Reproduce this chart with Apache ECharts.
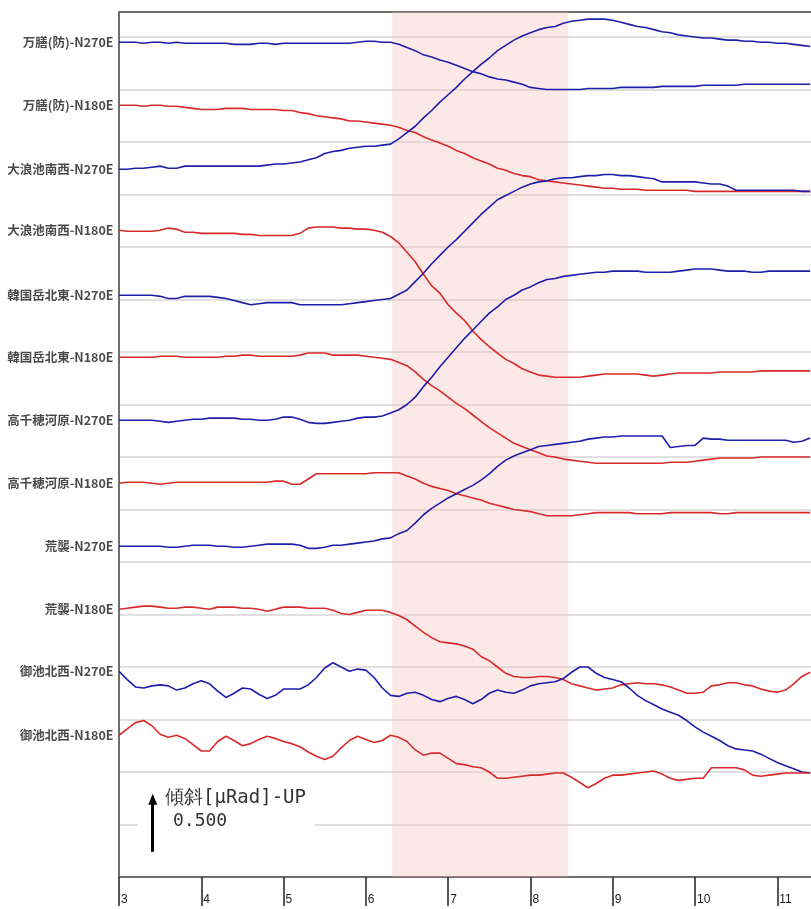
<!DOCTYPE html>
<html><head><meta charset="utf-8">
<script src="https://cdn.jsdelivr.net/npm/echarts@6/dist/echarts.min.js"></script>
<style>html,body{margin:0;padding:0;background:#fff}#c{width:811px;height:909px}</style>
</head><body><div id="c"></div>
<script>
// time axis (x), shared by all traces
const times = [3.0,3.1,3.2,3.3,3.4,3.5,3.6,3.7,3.8,3.9,
 4.0,4.1,4.2,4.3,4.4,4.5,4.6,4.7,4.8,4.9,
 5.0,5.1,5.2,5.3,5.4,5.5,5.6,5.7,5.8,5.9,
 6.0,6.1,6.2,6.3,6.4,6.5,6.6,6.7,6.8,6.9,
 7.0,7.1,7.2,7.3,7.4,7.5,7.6,7.7,7.8,7.9,
 8.0,8.1,8.2,8.3,8.4,8.5,8.6,8.7,8.8,8.9,
 9.0,9.1,9.2,9.3,9.4,9.5,9.6,9.7,9.8,9.9,
 10.0,10.1,10.2,10.3,10.4,10.5,10.6,10.7,10.8,10.9,
 11.0,11.1,11.2,11.3,11.4];
const xTicks = [3,4,5,6,7,8,9,10,11];
const stationLabels = ['万膳(防)-N270E','万膳(防)-N180E','大浪池南西-N270E','大浪池南西-N180E',
 '韓国岳北東-N270E','韓国岳北東-N180E','高千穂河原-N270E','高千穂河原-N180E',
 '荒襲-N270E','荒襲-N180E','御池北西-N270E','御池北西-N180E'];
const highlightStart = 6.32, highlightEnd = 8.46;
const scaleBar = 0.5; // μRad
// tilt traces (μRad, stacked offsets)
const mansenN270 = [7.95,7.95,7.95,7.94,7.95,7.95,7.94,7.95,7.94,7.94,
 7.94,7.94,7.94,7.94,7.93,7.93,7.93,7.94,7.94,7.93,
 7.94,7.94,7.94,7.94,7.94,7.94,7.94,7.94,7.94,7.95,
 7.96,7.96,7.95,7.95,7.93,7.90,7.87,7.83,7.81,7.78,
 7.76,7.73,7.70,7.67,7.65,7.62,7.60,7.59,7.57,7.55,
 7.52,7.51,7.50,7.50,7.50,7.50,7.50,7.51,7.51,7.51,
 7.51,7.52,7.52,7.52,7.52,7.52,7.53,7.53,7.53,7.53,
 7.53,7.54,7.54,7.54,7.54,7.54,7.55,7.55,7.55,7.55,
 7.55,7.55,7.55,7.55,7.55];
const mansenN180 = [7.35,7.35,7.35,7.34,7.35,7.35,7.34,7.34,7.33,7.32,
 7.31,7.31,7.31,7.32,7.32,7.32,7.31,7.31,7.31,7.31,
 7.30,7.30,7.28,7.27,7.25,7.24,7.23,7.22,7.20,7.20,
 7.19,7.18,7.17,7.16,7.14,7.11,7.09,7.05,7.02,6.99,
 6.96,6.92,6.89,6.85,6.82,6.79,6.75,6.73,6.70,6.68,
 6.67,6.64,6.63,6.62,6.61,6.60,6.59,6.58,6.57,6.56,
 6.56,6.55,6.55,6.55,6.54,6.54,6.54,6.54,6.54,6.54,
 6.53,6.53,6.53,6.53,6.53,6.53,6.53,6.53,6.53,6.53,
 6.53,6.53,6.53,6.53,6.53];
const onamiN270 = [6.74,6.74,6.75,6.75,6.76,6.77,6.75,6.75,6.77,6.77,
 6.77,6.77,6.77,6.77,6.77,6.77,6.77,6.77,6.78,6.79,
 6.79,6.80,6.81,6.83,6.85,6.89,6.91,6.92,6.94,6.95,
 6.96,6.96,6.97,6.98,7.03,7.09,7.15,7.23,7.30,7.38,
 7.45,7.52,7.60,7.67,7.74,7.80,7.87,7.92,7.97,8.01,
 8.04,8.07,8.09,8.10,8.13,8.15,8.16,8.17,8.17,8.17,
 8.16,8.14,8.12,8.10,8.09,8.07,8.05,8.04,8.02,8.01,
 8.00,7.99,7.99,7.98,7.97,7.97,7.96,7.96,7.95,7.95,
 7.94,7.94,7.93,7.92,7.91];
const onamiN180 = [6.16,6.15,6.15,6.15,6.15,6.16,6.18,6.17,6.14,6.14,
 6.13,6.13,6.13,6.13,6.13,6.12,6.12,6.11,6.11,6.11,
 6.11,6.11,6.13,6.18,6.19,6.19,6.19,6.18,6.18,6.17,
 6.17,6.16,6.14,6.10,6.04,5.95,5.86,5.74,5.63,5.56,
 5.45,5.37,5.30,5.20,5.12,5.05,4.99,4.93,4.89,4.84,
 4.81,4.78,4.77,4.76,4.76,4.76,4.76,4.77,4.78,4.79,
 4.79,4.79,4.79,4.79,4.78,4.77,4.78,4.79,4.80,4.80,
 4.80,4.80,4.80,4.81,4.81,4.81,4.81,4.81,4.82,4.82,
 4.82,4.82,4.82,4.82,4.82];
const karakuniN270 = [5.54,5.54,5.54,5.54,5.54,5.53,5.51,5.51,5.53,5.53,
 5.53,5.53,5.52,5.51,5.49,5.47,5.45,5.46,5.47,5.47,
 5.47,5.47,5.45,5.45,5.45,5.45,5.45,5.45,5.46,5.47,
 5.48,5.49,5.50,5.51,5.55,5.59,5.67,5.75,5.84,5.92,
 6.00,6.07,6.15,6.23,6.31,6.38,6.45,6.49,6.53,6.57,
 6.60,6.62,6.63,6.65,6.66,6.66,6.67,6.68,6.68,6.69,
 6.69,6.68,6.68,6.67,6.66,6.65,6.62,6.62,6.62,6.62,
 6.62,6.61,6.60,6.60,6.58,6.54,6.54,6.54,6.54,6.54,
 6.54,6.54,6.54,6.53,6.53];
const karakuniN180 = [4.95,4.95,4.95,4.95,4.95,4.96,4.96,4.96,4.95,4.95,
 4.95,4.95,4.95,4.96,4.96,4.97,4.97,4.96,4.96,4.96,
 4.96,4.96,4.97,4.99,4.99,4.99,4.97,4.97,4.97,4.97,
 4.96,4.95,4.94,4.93,4.90,4.87,4.81,4.74,4.68,4.63,
 4.57,4.51,4.46,4.40,4.34,4.28,4.23,4.18,4.13,4.10,
 4.07,4.04,4.01,4.00,3.98,3.97,3.96,3.95,3.94,3.94,
 3.94,3.94,3.94,3.94,3.94,3.94,3.94,3.95,3.95,3.95,
 3.96,3.97,3.98,3.99,3.99,3.99,3.99,3.99,4.00,4.00,
 4.00,4.00,4.00,4.00,4.00];
const takachihoN270 = [4.35,4.35,4.35,4.35,4.35,4.34,4.33,4.34,4.35,4.36,
 4.36,4.37,4.37,4.37,4.37,4.36,4.36,4.35,4.35,4.36,
 4.38,4.38,4.36,4.33,4.32,4.32,4.33,4.34,4.35,4.37,
 4.38,4.38,4.39,4.42,4.45,4.50,4.57,4.67,4.76,4.86,
 4.95,5.04,5.13,5.21,5.29,5.37,5.43,5.50,5.54,5.59,
 5.62,5.66,5.69,5.70,5.72,5.73,5.74,5.75,5.76,5.76,
 5.77,5.77,5.77,5.77,5.76,5.76,5.76,5.76,5.77,5.78,
 5.79,5.79,5.79,5.78,5.77,5.77,5.77,5.76,5.76,5.77,
 5.77,5.77,5.77,5.77,5.77];
const takachihoN180 = [3.75,3.76,3.76,3.76,3.75,3.74,3.75,3.76,3.76,3.76,
 3.76,3.76,3.76,3.76,3.76,3.76,3.76,3.76,3.76,3.77,
 3.77,3.74,3.74,3.79,3.84,3.84,3.84,3.84,3.84,3.84,
 3.84,3.85,3.85,3.85,3.85,3.82,3.79,3.75,3.72,3.70,
 3.68,3.65,3.63,3.61,3.59,3.56,3.54,3.52,3.50,3.49,
 3.48,3.46,3.44,3.44,3.44,3.44,3.45,3.46,3.47,3.47,
 3.47,3.47,3.47,3.46,3.46,3.46,3.46,3.47,3.47,3.47,
 3.47,3.47,3.47,3.46,3.46,3.47,3.47,3.47,3.47,3.47,
 3.47,3.47,3.47,3.47,3.47];
const arasoN270 = [3.15,3.15,3.15,3.15,3.15,3.15,3.14,3.14,3.15,3.16,
 3.16,3.16,3.15,3.15,3.14,3.14,3.15,3.16,3.17,3.17,
 3.17,3.17,3.16,3.13,3.13,3.14,3.16,3.16,3.17,3.18,
 3.19,3.20,3.22,3.23,3.27,3.30,3.37,3.45,3.51,3.56,
 3.61,3.65,3.69,3.73,3.78,3.84,3.91,3.97,4.01,4.04,
 4.07,4.10,4.11,4.12,4.13,4.14,4.15,4.17,4.18,4.19,
 4.19,4.20,4.20,4.20,4.20,4.20,4.20,4.09,4.10,4.11,
 4.11,4.18,4.17,4.17,4.16,4.16,4.16,4.16,4.16,4.16,
 4.16,4.16,4.14,4.15,4.18];
const arasoN180 = [2.55,2.56,2.57,2.58,2.58,2.57,2.56,2.56,2.57,2.57,
 2.56,2.55,2.57,2.57,2.57,2.56,2.56,2.55,2.53,2.55,
 2.57,2.57,2.57,2.56,2.56,2.56,2.54,2.51,2.50,2.52,
 2.54,2.54,2.54,2.52,2.49,2.45,2.39,2.33,2.28,2.24,
 2.23,2.22,2.20,2.17,2.10,2.06,2.00,1.94,1.91,1.90,
 1.90,1.91,1.91,1.90,1.88,1.84,1.82,1.80,1.78,1.79,
 1.80,1.83,1.84,1.85,1.84,1.84,1.83,1.81,1.78,1.75,
 1.75,1.76,1.82,1.83,1.85,1.85,1.83,1.82,1.79,1.77,
 1.76,1.78,1.84,1.91,1.95];
const oikeN270 = [1.96,1.88,1.81,1.80,1.82,1.83,1.82,1.78,1.80,1.84,
 1.87,1.84,1.77,1.71,1.75,1.80,1.79,1.74,1.70,1.73,
 1.79,1.79,1.79,1.83,1.90,1.99,2.04,2.00,1.96,1.98,
 1.97,1.90,1.80,1.73,1.72,1.75,1.76,1.73,1.69,1.67,
 1.70,1.72,1.69,1.65,1.69,1.75,1.78,1.76,1.75,1.78,
 1.82,1.84,1.85,1.86,1.89,1.95,2.00,2.00,1.94,1.90,
 1.88,1.86,1.80,1.73,1.68,1.64,1.60,1.57,1.54,1.49,
 1.43,1.38,1.34,1.30,1.25,1.22,1.21,1.20,1.17,1.13,
 1.09,1.06,1.03,1.00,0.99];
const oikeN180 = [1.35,1.41,1.47,1.49,1.44,1.36,1.33,1.35,1.32,1.26,
 1.20,1.20,1.29,1.34,1.30,1.25,1.27,1.31,1.34,1.32,
 1.29,1.27,1.24,1.19,1.15,1.12,1.15,1.23,1.30,1.34,
 1.31,1.28,1.30,1.35,1.33,1.29,1.21,1.16,1.18,1.18,
 1.13,1.08,1.07,1.05,1.04,1.00,0.94,0.94,0.95,0.96,
 0.97,0.97,0.98,0.99,0.99,0.95,0.90,0.85,0.89,0.94,
 0.97,0.97,0.98,0.99,1.00,1.01,0.98,0.94,0.92,0.93,
 0.94,0.94,1.04,1.04,1.04,1.04,1.02,0.97,0.96,0.97,
 0.98,0.99,0.99,0.99,0.99];

const traces = [mansenN270, mansenN180, onamiN270, onamiN180, karakuniN270, karakuniN180,
  takachihoN270, takachihoN180, arasoN270, arasoN180, oikeN270, oikeN180];

const BLUE = '#1e1eaa', RED = '#d82a2a';
const chart = echarts.init(document.getElementById('c'));

const lineSeries = traces.map((vals, i) => ({
  type: 'line', name: stationLabels[i],
  data: times.map((t, j) => [t, vals[j]]),
  showSymbol: false, symbol: 'none', z: 3,
  lineStyle: { color: i % 2 === 0 ? BLUE : RED, width: 1.6 },
  itemStyle: { color: i % 2 === 0 ? BLUE : RED }
}));

const decoSeries = {
  type: 'line', name: 'deco', data: [], z: 1, silent: true,
  markArea: {
    silent: true,
    data: [
      [{ xAxis: highlightStart, itemStyle: { color: 'rgba(248,190,190,0.35)' } }, { xAxis: highlightEnd }],
      [{ coord: [3.23, 0.09], itemStyle: { color: '#ffffff' } }, { coord: [5.38, 0.86] }]
    ]
  },
  markLine: {
    silent: true, symbol: ['none', 'triangle'], symbolSize: [9, 11],
    lineStyle: { color: '#000', width: 3, type: 'solid' },
    label: { show: false },
    data: [[{ coord: [3.41, 0.24] }, { coord: [3.41, 0.24 + scaleBar] }]]
  }
};

const labelSeries = {
  type: 'scatter', name: 'labels', z: 5, silent: true, symbolSize: 1,
  itemStyle: { color: 'rgba(0,0,0,0)' },
  data: traces.map((v, i) => ({ name: stationLabels[i], value: [times[0], v[0]] })),
  label: {
    show: true, position: 'left', distance: 5, formatter: '{b}',
    fontSize: 12.5, fontWeight: 'bold', color: '#1a1a1a', fontFamily: '"Noto Sans CJK JP", sans-serif'
  }
};

chart.setOption({
  animation: false,
  backgroundColor: '#ffffff',
  grid: { left: 119, right: 0, top: 12, bottom: 32, containLabel: false },
  xAxis: [{
    type: 'value', min: 3, max: 11.41, interval: 1, position: 'bottom',
    axisLine: { show: true, onZero: false, lineStyle: { color: '#6e6e6e', width: 2 } },
    axisTick: { show: true, length: 29, customValues: xTicks, lineStyle: { color: '#222', width: 1.5 } },
    axisLabel: { show: true, customValues: xTicks, align: 'left', margin: 17,
      padding: [0, 0, 0, 2], fontSize: 12, color: '#222', fontFamily: '"Liberation Sans", Arial',
      formatter: v => String(v) },
    splitLine: { show: false }
  }, {
    type: 'value', min: 3, max: 11.41, position: 'top',
    axisLine: { show: true, onZero: false, lineStyle: { color: '#6e6e6e', width: 2 } },
    axisTick: { show: false }, axisLabel: { show: false }, splitLine: { show: false }
  }],
  yAxis: {
    type: 'value', min: 0, max: 8.238, interval: 0.5,
    axisLine: { show: true, onZero: false, lineStyle: { color: '#6e6e6e', width: 2 } },
    axisTick: { show: false }, axisLabel: { show: false },
    splitLine: { show: true, lineStyle: { color: '#d6d6d6', width: 1.5 } }
  },
  graphic: [
    { type: 'text', left: 165, top: 789, z: 10,
      style: { text: '傾斜[μRad]-UP', font: '19px "DejaVu Sans Mono", monospace', fill: '#333' } },
    { type: 'text', left: 173, top: 812, z: 10,
      style: { text: '0.500', font: '18px "DejaVu Sans Mono", monospace', fill: '#333' } }
  ],
  series: [decoSeries, ...lineSeries, labelSeries]
});
</script></body></html>
